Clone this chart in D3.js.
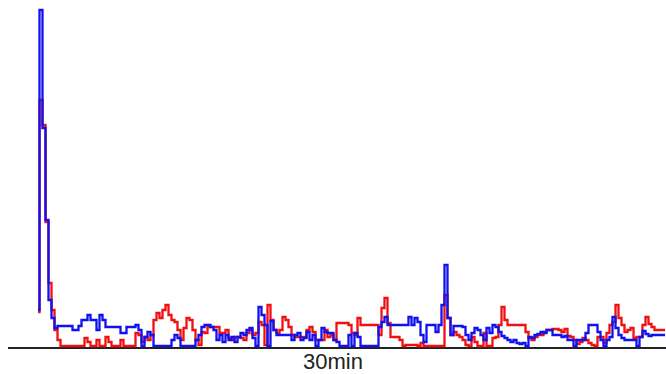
<!DOCTYPE html>
<html>
<head>
<meta charset="utf-8">
<script src="https://cdn.jsdelivr.net/npm/d3@7"></script>
<style>
  html, body { margin: 0; padding: 0; background: #fff; }
  svg { display: block; }
</style>
</head>
<body>
<svg id="chart" width="666" height="374"></svg>
<script>
// one sample every few seconds over the 30 minute window
const blueValues = [
  36, 336, 218, 126, 46, 28, 18, 20, 20, 20, 20, 20, 16, 16, 20, 26, 26, 31, 26, 26,
  16, 31, 26, 19, 19, 19, 19, 19, 13, 13, 19, 19, 19, 21, 16, 0, 9, 14, 11, 0,
  0, 0, 0, 0, 0, 6, 11, 8, 0, 0, 0, 0, 0, 6, 11, 19, 21, 21, 19, 16,
  6, 11, 4, 11, 6, 9, 4, 9, 13, 11, 16, 18, 8, 0, 39, 31, 21, 0, 25, 16,
  11, 11, 11, 11, 11, 6, 11, 13, 6, 8, 14, 6, 11, 0, 6, 18, 14, 13, 13, 6,
  4, 0, 0, 0, 11, 0, 13, 9, 0, 0, 0, 0, 0, 0, 19, 24, 29, 21, 21, 21,
  21, 21, 21, 21, 29, 21, 28, 24, 11, 4, 21, 21, 21, 14, 21, 41, 81, 28, 11, 20,
  20, 20, 19, 11, 6, 13, 18, 16, 11, 6, 18, 13, 21, 19, 14, 10, 8, 6, 4, 6,
  3, 2, 3, 0, 9, 8, 11, 12, 14, 13, 16, 16, 11, 11, 11, 9, 10, 6, 6, 0,
  6, 6, 6, 13, 21, 21, 21, 14, 6, 0, 6, 9, 29, 18, 11, 8, 6, 6, 6, 6,
  0, 9, 15, 12, 10, 11, 11, 11, 11, 11
];
const redValues = [
  34, 246, 221, 124, 63, 36, 16, 6, 0, 0, 0, 0, 0, 0, 0, 0, 8, 4, 0, 0,
  6, 0, 0, 9, 4, 0, 0, 0, 6, 0, 0, 0, 0, 13, 11, 4, 9, 6, 11, 26,
  33, 28, 36, 41, 31, 26, 24, 16, 6, 18, 28, 26, 16, 6, 1, 14, 13, 19, 19, 19,
  19, 13, 13, 16, 8, 6, 9, 9, 8, 6, 13, 16, 11, 13, 24, 21, 1, 41, 26, 16,
  13, 16, 29, 26, 19, 11, 9, 9, 9, 9, 16, 19, 14, 6, 6, 6, 16, 9, 11, 6,
  23, 23, 23, 23, 21, 13, 11, 28, 21, 21, 21, 21, 21, 21, 11, 38, 48, 23, 9, 9,
  9, 6, 0, 1, 1, 1, 1, 0, 3, 0, 0, 0, 0, 0, 0, 0, 51, 28, 11, 14,
  11, 9, 6, 1, 0, 9, 4, 0, 0, 13, 0, 0, 8, 9, 21, 39, 26, 21, 21, 21,
  21, 21, 21, 14, 8, 6, 9, 11, 11, 14, 16, 16, 17, 17, 16, 14, 17, 10, 9, 6,
  2, 4, 8, 6, 3, 1, 0, 9, 9, 3, 13, 21, 24, 41, 28, 21, 14, 16, 18, 8,
  9, 9, 21, 29, 22, 19, 16, 16, 16, 16
];
const axisLabel = "30min";

const svg = d3.select("#chart");
const n = blueValues.length;

const x = d3.scaleLinear().domain([0, n - 1]).range([38, 665]);
const y = d3.scaleLinear().domain([0, 336]).range([346, 10]);

const line = d3.line()
  .x((d, i) => x(i))
  .y(d => y(d))
  .curve(d3.curveStep);

// baseline
svg.append("line")
  .attr("x1", 8).attr("x2", 666)
  .attr("y1", 348).attr("y2", 348)
  .attr("stroke", "#222")
  .attr("stroke-width", 2);

svg.append("path")
  .datum(redValues)
  .attr("d", line)
  .attr("fill", "none")
  .attr("stroke", "#f01010")
  .attr("stroke-width", 2.3);

svg.append("path")
  .datum(blueValues)
  .attr("d", line)
  .attr("fill", "none")
  .attr("stroke", "#1010f0")
  .attr("stroke-width", 2.3);

svg.append("text")
  .attr("x", 333)
  .attr("y", 369)
  .attr("text-anchor", "middle")
  .attr("font-family", "Liberation Sans, Arial, sans-serif")
  .attr("font-size", 22)
  .attr("fill", "#222")
  .text(axisLabel);
</script>
</body>
</html>
